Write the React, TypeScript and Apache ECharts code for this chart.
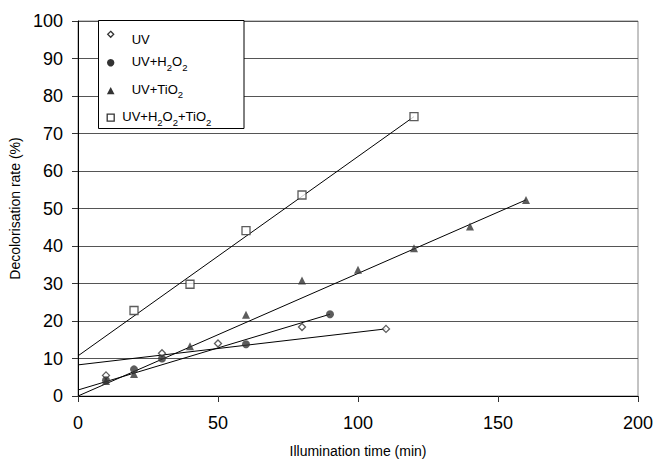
import React, { useEffect, useRef } from "react";
import * as echarts from "echarts";

// Data
const xUV = [10, 30, 50, 80, 110];
const yUV = [5.5, 11.4, 14.0, 18.4, 17.9];

const xH2O2 = [10, 20, 30, 60, 90];
const yH2O2 = [4.2, 7.1, 10.0, 13.8, 21.8];

const xTiO2 = [10, 20, 40, 60, 80, 100, 120, 140, 160];
const yTiO2 = [4.0, 5.9, 13.3, 21.7, 30.8, 33.7, 39.4, 45.2, 52.3];

const xAll = [20, 40, 60, 80, 120];
const yAll = [22.8, 29.8, 44.1, 53.6, 74.5];

// Trend lines (start / end points, axis units)
const trendUV = [[0, 8.3], [110, 17.9]];
const trendH2O2 = [[0, 1.6], [90, 21.8]];
const trendTiO2 = [[0, 0], [160, 52.3]];
const trendAll = [[0, 10.7], [120, 74.5]];

const xTicks = [0, 50, 100, 150, 200];
const yTicks = [0, 10, 20, 30, 40, 50, 60, 70, 80, 90, 100];

const legendLabels = ["UV", "UV+H{s|2}O{s|2}", "UV+TiO{s|2}", "UV+H{s|2}O{s|2}+TiO{s|2}"];

const FONT = "'Liberation Sans', Arial, Helvetica, sans-serif";

const pairs = (xs: number[], ys: number[]) => xs.map((x, i) => [x, ys[i]]);

export default function App() {
  const ref = useRef<HTMLDivElement>(null);
  useEffect(() => {
    const chart = echarts.init(ref.current!, null, { renderer: "svg" });
    const trendStyle = { color: "#000", width: 1 };
    const mkTrend = (d: number[][]) => ({
      type: "line",
      data: d,
      symbol: "none",
      lineStyle: trendStyle,
      silent: true,
      z: 2,
    });
    const textX = [131.7, 131.7, 131.7, 122.3];
    const textY = [39.5, 61.5, 89, 116.7];
    const legendTexts = legendLabels.map((t, i) => ({
      type: "text",
      z: 101,
      style: {
        text: t,
        x: textX[i],
        y: textY[i],
        fontFamily: FONT,
        fontSize: 13,
        lineHeight: 21,
        fill: "#000",
        verticalAlign: "middle",
        align: "left",
        rich: {
          s: { fontSize: 9.5, lineHeight: 10, verticalAlign: "bottom", fontFamily: FONT, fill: "#000" },
        },
      },
    }));
    chart.setOption({
      animation: false,
      backgroundColor: "#fff",
      grid: {
        left: 78,
        right: 18,
        top: 21,
        bottom: 63,
        show: true,
        borderColor: "#888",
        borderWidth: 1,
        outerBoundsMode: "none",
      },
      xAxis: {
        type: "value",
        min: 0,
        max: 200,
        interval: 50,
        name: "Illumination time (min)",
        nameLocation: "middle",
        nameGap: 48,
        nameTextStyle: { fontFamily: FONT, fontSize: 14, color: "#000" },
        axisLine: { show: true, onZero: false, lineStyle: { color: "#000", width: 1 } },
        axisTick: { show: true, inside: false, length: 6, lineStyle: { color: "#333" } },
        axisLabel: {
          fontFamily: FONT,
          fontSize: 18,
          color: "#000",
          margin: 18,
          formatter: (v: number) => (xTicks.includes(v) ? String(v) : ""),
        },
        splitLine: { show: false },
      },
      yAxis: {
        type: "value",
        min: 0,
        max: 100,
        interval: 10,
        name: "Decolorisation rate (%)",
        nameLocation: "middle",
        nameGap: 53,
        nameTextStyle: { fontFamily: FONT, fontSize: 14, color: "#000" },
        axisLine: { show: true, onZero: false, lineStyle: { color: "#000", width: 1 } },
        axisTick: { show: true, inside: false, length: 6, lineStyle: { color: "#333" } },
        axisLabel: {
          fontFamily: FONT,
          fontSize: 18,
          color: "#000",
          margin: 15,
          formatter: (v: number) => (yTicks.includes(v) ? String(v) : ""),
        },
        splitLine: { show: true, lineStyle: { color: "#555", width: 1 } },
      },
      series: [
        mkTrend(trendUV),
        mkTrend(trendH2O2),
        mkTrend(trendTiO2),
        mkTrend(trendAll),
        {
          name: "UV",
          type: "scatter",
          data: pairs(xUV, yUV),
          symbol: "diamond",
          symbolSize: 7,
          itemStyle: { color: "#fff", borderColor: "#333", borderWidth: 1.3 },
          z: 3,
        },
        {
          name: "UV+H2O2",
          type: "scatter",
          data: pairs(xH2O2, yH2O2),
          symbol: "circle",
          symbolSize: 8,
          itemStyle: { color: "#333" },
          z: 4,
        },
        {
          name: "UV+TiO2",
          type: "scatter",
          data: pairs(xTiO2, yTiO2),
          symbol: "triangle",
          symbolSize: 8,
          itemStyle: { color: "#333" },
          z: 5,
        },
        {
          name: "UV+H2O2+TiO2",
          type: "scatter",
          data: pairs(xAll, yAll),
          symbol: "rect",
          symbolSize: 8,
          itemStyle: { color: "#fff", borderColor: "#333", borderWidth: 1.3 },
          z: 6,
        },
      ],
      graphic: [
        {
          type: "rect",
          z: 100,
          shape: { x: 98.5, y: 20.5, width: 145.5, height: 108 },
          style: { fill: "#fff", stroke: "#000", lineWidth: 1 },
        },
        {
          type: "polygon",
          z: 101,
          shape: { points: [[110.7, 31.3], [113.7, 34.3], [110.7, 37.3], [107.7, 34.3]] },
          style: { fill: "#fff", stroke: "#333", lineWidth: 1.3 },
        },
        {
          type: "circle",
          z: 101,
          shape: { cx: 110.7, cy: 62.7, r: 3.7 },
          style: { fill: "#333" },
        },
        {
          type: "polygon",
          z: 101,
          shape: { points: [[110.7, 87], [114.5, 94.2], [106.9, 94.2]] },
          style: { fill: "#333" },
        },
        {
          type: "rect",
          z: 101,
          shape: { x: 107.2, y: 114.2, width: 7, height: 7 },
          style: { fill: "#fff", stroke: "#333", lineWidth: 1.3 },
        },
        ...legendTexts,
      ],
    });
    return () => chart.dispose();
  }, []);
  return (
    <div
      ref={ref}
      style={{ position: "fixed", left: 0, top: 0, width: 656, height: 459, background: "#fff" }}
    />
  );
}
